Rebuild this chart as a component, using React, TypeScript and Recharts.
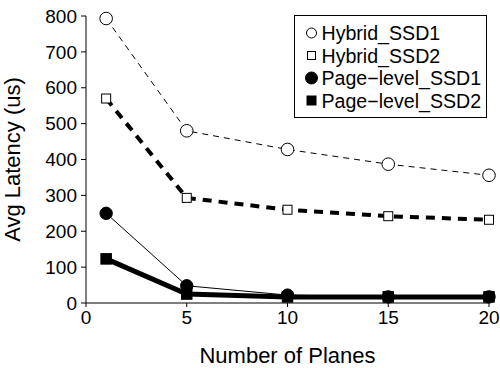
import React from 'react';
import { LineChart, Line, XAxis, YAxis } from 'recharts';

const planes = [1, 5, 10, 15, 20];
const hybridSSD1 = [793, 480, 428, 387, 356];
const hybridSSD2 = [570, 293, 260, 242, 232];
const pageSSD1 = [250, 48, 22, 17, 17];
const pageSSD2 = [123, 25, 17, 17, 17];
const xTicks = [0, 5, 10, 15, 20];
const yTicks = [0, 100, 200, 300, 400, 500, 600, 700, 800];
const seriesNames = ['Hybrid_SSD1', 'Hybrid_SSD2', 'Page\u2212level_SSD1', 'Page\u2212level_SSD2'];

const data = planes.map((p, i) => ({
  x: p,
  h1: hybridSSD1[i],
  h2: hybridSSD2[i],
  p1: pageSSD1[i],
  p2: pageSSD2[i],
}));

const FONT = '"Liberation Sans", Arial, sans-serif';

const makeDot = (shape: 'circle' | 'square', filled: boolean) => (props: any) => {
  const { cx, cy, index } = props;
  if (cx == null || cy == null) return <g key={index} />;
  const fill = filled ? '#000' : '#fff';
  if (shape === 'circle') {
    return <circle key={index} cx={cx} cy={cy} r={filled ? 6.2 : 6.3} fill={fill} stroke="#000" strokeWidth={1} />;
  }
  const s = filled ? 10.5 : 9;
  return <rect key={index} x={cx - s / 2} y={cy - s / 2} width={s} height={s} fill={fill} stroke="#000" strokeWidth={1} />;
};

const legendShapes = [
  { shape: 'circle', filled: false },
  { shape: 'square', filled: false },
  { shape: 'circle', filled: true },
  { shape: 'square', filled: true },
];

const LegendBox = () => (
  <svg width={194} height={104} style={{ position: 'absolute', left: 294, top: 15 }}>
    <rect x={0.5} y={0.5} width={192} height={102} fill="#fff" stroke="#000" strokeWidth={1} />
    {seriesNames.map((name, i) => {
      const it = legendShapes[i];
      const cy = 18 + i * 22.5;
      return (
        <g key={name}>
          {it.shape === 'circle' ? (
            <circle cx={17.5} cy={cy} r={it.filled ? 6 : 5} fill={it.filled ? '#000' : '#fff'} stroke="#000" />
          ) : (
            <rect x={17.5 - (it.filled ? 4.5 : 4)} y={cy - (it.filled ? 4.5 : 4)} width={it.filled ? 9 : 8} height={it.filled ? 9 : 8} fill={it.filled ? '#000' : '#fff'} stroke="#000" />
          )}
          <text x={27.5} y={cy + 7} fontSize={19.6} fontFamily={FONT} fill="#000">{name}</text>
        </g>
      );
    })}
  </svg>
);

export default function App() {
  return (
    <div style={{ position: 'absolute', left: 0, top: 0, width: 500, height: 368, background: '#fff' }}>
      <LineChart width={500} height={368} data={data} margin={{ top: 16, right: 11, left: 0, bottom: 0 }}>
        <XAxis
          dataKey="x"
          type="number"
          domain={[0, 20]}
          ticks={xTicks}
          height={65}
          stroke="#000"
          tickSize={4}
          tick={{ fill: '#000', fontSize: 19, fontFamily: FONT }}
          tickMargin={4}
          label={{ value: 'Number of Planes', position: 'insideBottom', offset: 5, fill: '#000', fontSize: 22, fontFamily: FONT }}
        />
        <YAxis
          type="number"
          domain={[0, 800]}
          ticks={yTicks}
          width={86}
          stroke="#000"
          tickSize={5}
          tick={{ fill: '#000', fontSize: 19, fontFamily: FONT }}
          tickMargin={4}
          label={{ value: 'Avg Latency (us)', angle: -90, position: 'insideLeft', offset: 12, style: { textAnchor: 'middle' }, fill: '#000', fontSize: 22, fontFamily: FONT }}
        />
        <Line dataKey="h1" name={seriesNames[0]} stroke="#000" strokeWidth={1} strokeDasharray="6 5" dot={makeDot('circle', false)} isAnimationActive={false} />
        <Line dataKey="h2" name={seriesNames[1]} stroke="#000" strokeWidth={4} strokeDasharray="9 7" dot={makeDot('square', false)} isAnimationActive={false} />
        <Line dataKey="p2" name={seriesNames[3]} stroke="#000" strokeWidth={5} dot={makeDot('square', true)} isAnimationActive={false} />
        <Line dataKey="p1" name={seriesNames[2]} stroke="#000" strokeWidth={1} dot={makeDot('circle', true)} isAnimationActive={false} />
      </LineChart>
      <LegendBox />
    </div>
  );
}
